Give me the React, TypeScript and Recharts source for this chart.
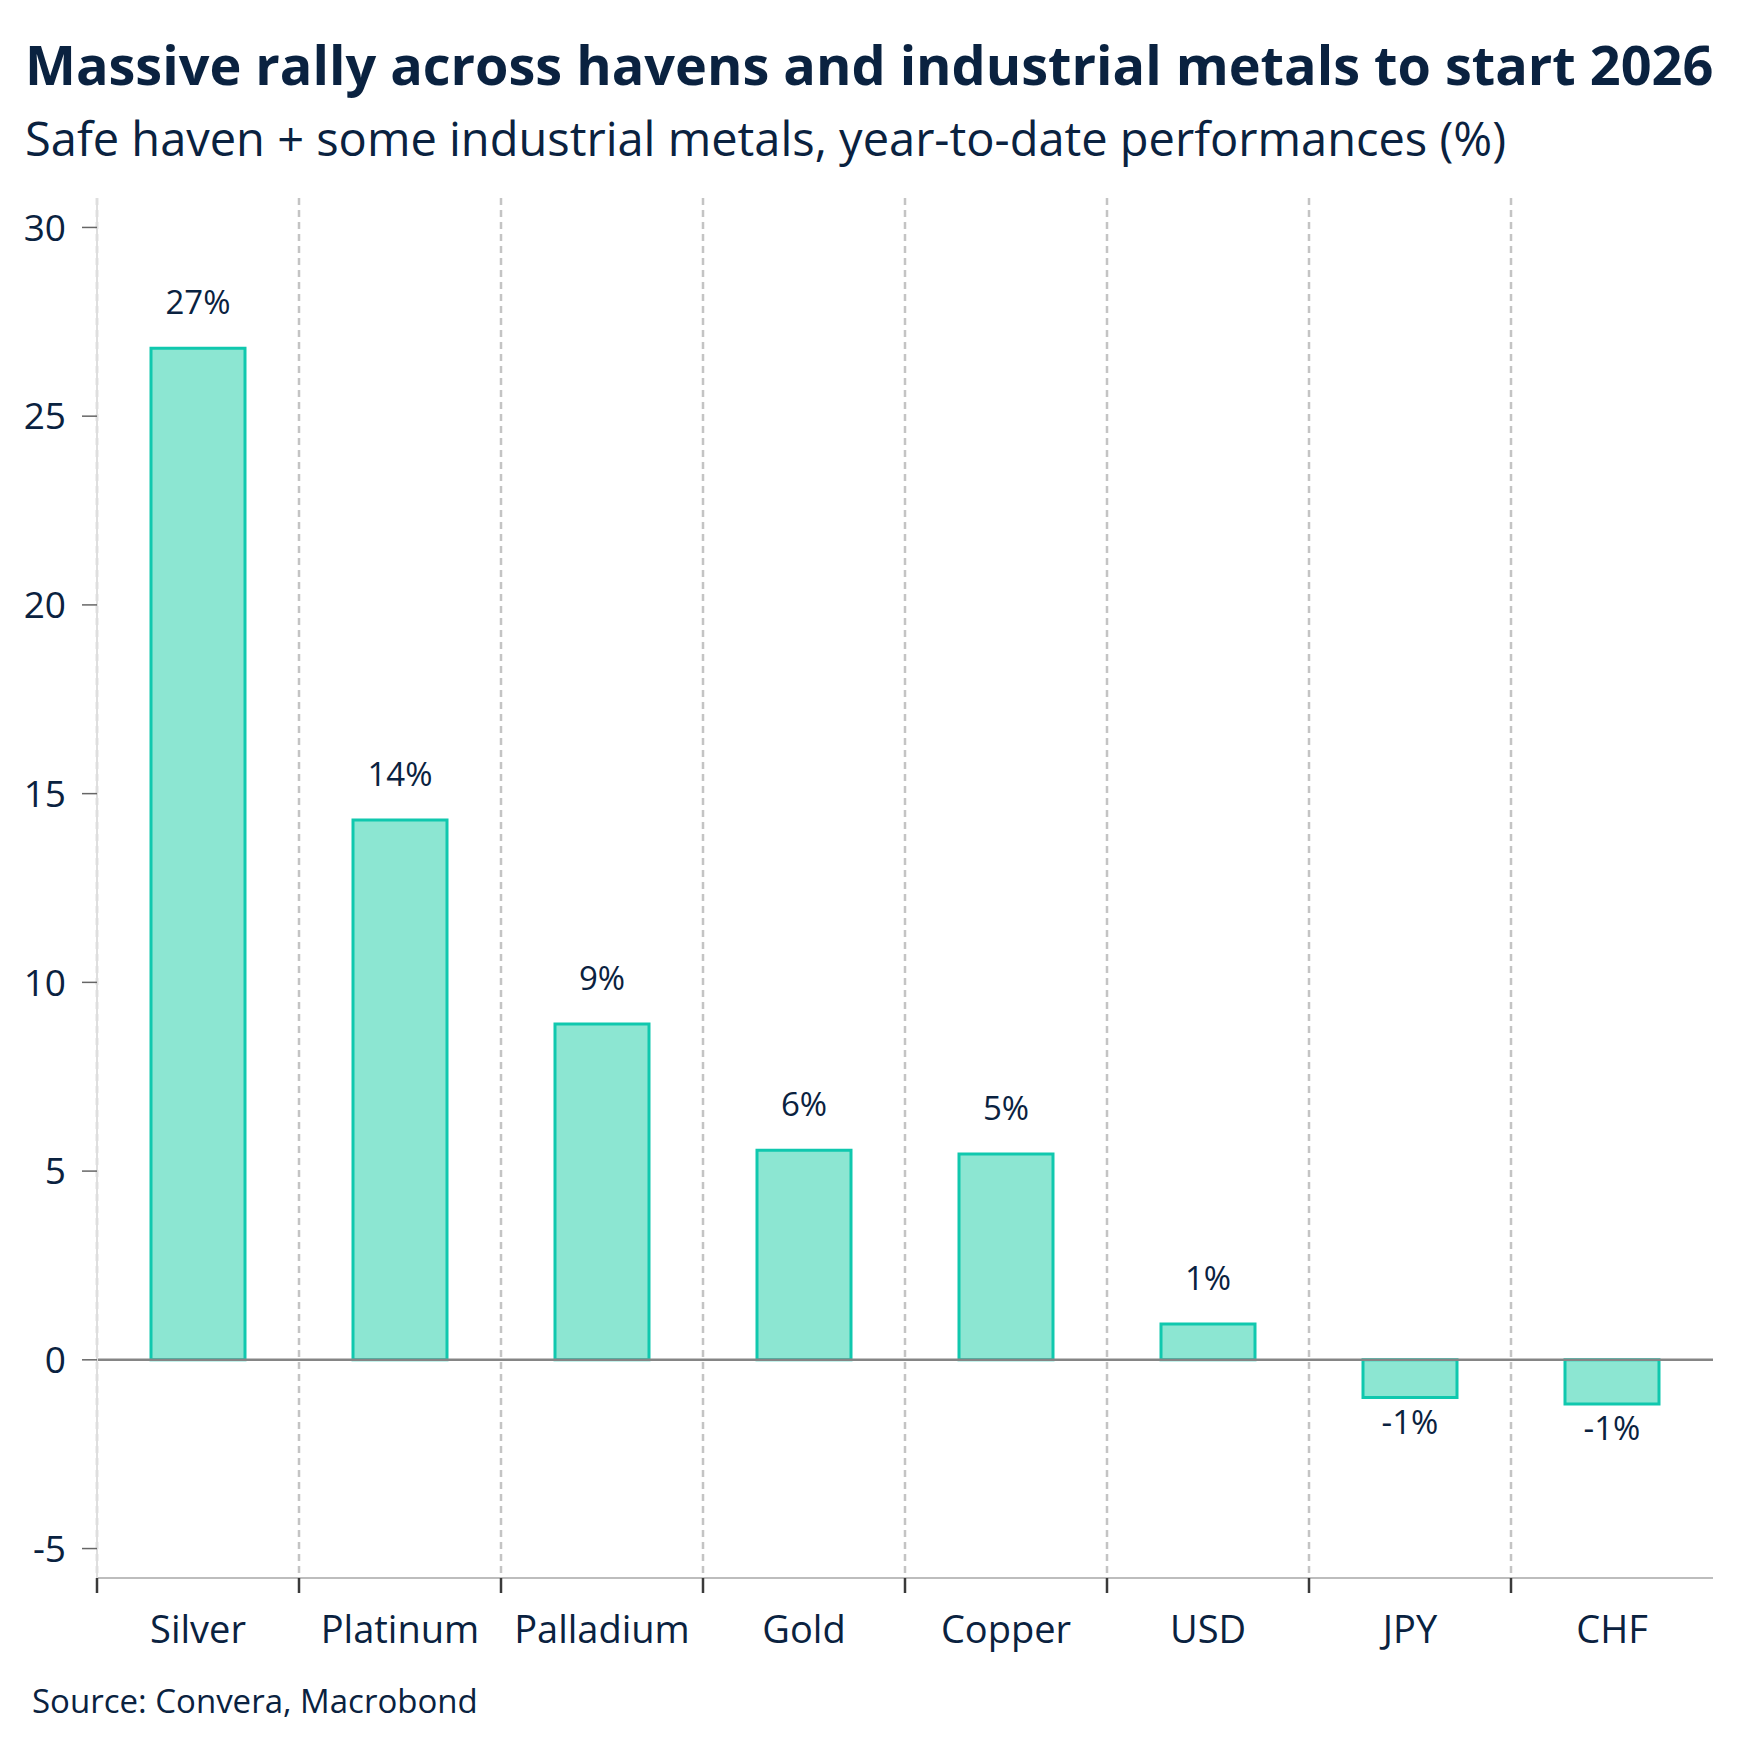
import React from 'react';
import { BarChart, Bar, XAxis, YAxis, CartesianGrid, ReferenceLine, LabelList } from 'recharts';

// year-to-date performance, %
const categories = ['Silver', 'Platinum', 'Palladium', 'Gold', 'Copper', 'USD', 'JPY', 'CHF'];
const ytdChange = [26.8, 14.3, 8.9, 5.55, 5.45, 0.95, -1.0, -1.17];
const yTicks = [-5, 0, 5, 10, 15, 20, 25, 30];
const yDomain: [number, number] = [-5.78, 30.78];

const data = categories.map((name, i) => ({ name, value: ytdChange[i] }));

const W = 1760;
const H = 1756;
const PLOT_LEFT = 97;
const PLOT_RIGHT = 1713;
const PLOT_TOP = 198;
const PLOT_BOTTOM = 1578;
const X_AXIS_H = 60;
const BAND = (PLOT_RIGHT - PLOT_LEFT) / categories.length;

const FONT = "'Segoe UI', 'Open Sans', sans-serif";
const INK = '#0a2240';

const CategoryTick = (props: any) => {
  const { x, y, payload } = props;
  const edge = x - BAND / 2;
  return (
    <g>
      <line x1={edge} x2={edge} y1={y} y2={y + 15} stroke="#3a3a3a" strokeWidth={2.5} />
      <text x={x} y={y + 65} textAnchor="middle" fill={INK} fontSize={38} fontFamily={FONT}>
        {payload.value}
      </text>
    </g>
  );
};

const ValueLabel = (props: any) => {
  const vb = props.viewBox ?? props;
  const { x, y, width, height } = vb;
  const value = Number(props.value);
  const top = Math.min(y, y + height);
  const bottom = Math.max(y, y + height);
  const ty = value >= 0 ? top - 34 : bottom + 36;
  return (
    <text x={x + width / 2} y={ty} textAnchor="middle" fill={INK} fontSize={33} fontFamily={FONT}>
      {`${Math.round(value)}%`}
    </text>
  );
};

export default function App() {
  return (
    <div style={{ position: 'absolute', left: 0, top: 0, width: W, height: H, background: '#fff' }}>
      <BarChart
        width={W}
        height={H}
        data={data}
        margin={{ top: PLOT_TOP, right: W - PLOT_RIGHT, bottom: H - PLOT_BOTTOM - X_AXIS_H, left: 0 }}
      >
        <CartesianGrid
          horizontal={false}
          verticalPoints={categories.map((_, i) => PLOT_LEFT + i * BAND)}
          stroke="#c4c4c4"
          strokeWidth={2.5}
          strokeDasharray="7 5"
        />
        <XAxis
          dataKey="name"
          height={X_AXIS_H}
          axisLine={{ stroke: '#bdbdbd', strokeWidth: 2 }}
          tickLine={false}
          tickSize={0}
          tickMargin={0}
          interval={0}
          tick={<CategoryTick />}
        />
        <YAxis
          width={PLOT_LEFT}
          type="number"
          domain={yDomain}
          ticks={yTicks}
          interval={0}
          axisLine={{ stroke: '#dedede', strokeWidth: 2 }}
          tickLine={{ stroke: '#666', strokeWidth: 1.5 }}
          tickSize={15}
          tickMargin={16}
          tick={{ fill: INK, fontSize: 37, fontFamily: FONT }}
        />
        <Bar
          dataKey="value"
          fill="#8ce6d2"
          stroke="#10c8ae"
          strokeWidth={3}
          barSize={94}
          isAnimationActive={false}
        >
          <LabelList dataKey="value" content={ValueLabel} />
        </Bar>
        <ReferenceLine y={0} stroke="#858585" strokeWidth={2.5} />
      </BarChart>
      <svg
        width={W}
        height={H}
        style={{ position: 'absolute', left: 0, top: 0, pointerEvents: 'none' }}
      >
        <text x={25} y={85} fill={INK} fontSize={54} fontWeight={700} fontFamily={FONT}>
          Massive rally across havens and industrial metals to start 2026
        </text>
        <text x={25} y={156} fill={INK} fontSize={47} fontFamily={FONT}>
          Safe haven + some industrial metals, year-to-date performances (%)
        </text>
        <text x={32} y={1713} fill={INK} fontSize={33} fontFamily={FONT}>
          Source: Convera, Macrobond
        </text>
      </svg>
    </div>
  );
}
